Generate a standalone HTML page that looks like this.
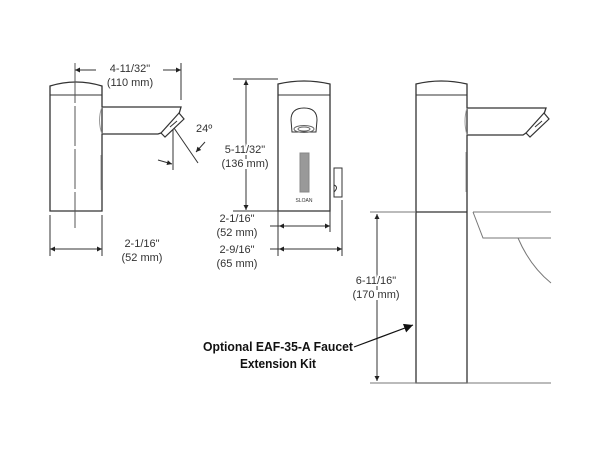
<!DOCTYPE html>
<html><head><style>
html,body{margin:0;padding:0;background:#fff;}
svg{display:block;}
text{font-family:"Liberation Sans",sans-serif;font-size:11px;fill:#333;}
.b{font-family:"Liberation Sans Narrow","Liberation Sans",sans-serif;font-weight:bold;font-size:13px;fill:#111;}
</style></head><body>
<svg width="600" height="449" viewBox="0 0 600 449" xmlns="http://www.w3.org/2000/svg">
<defs>
<marker id="a" viewBox="0 0 10 10" refX="10" refY="5" markerWidth="7" markerHeight="5" orient="auto-start-reverse" markerUnits="userSpaceOnUse"><path d="M0,0L10,5L0,10z" fill="#222"/></marker>
<marker id="ab" viewBox="0 0 10 10" refX="10" refY="5" markerWidth="12" markerHeight="9" orient="auto" markerUnits="userSpaceOnUse"><path d="M0,0L10,5L0,10z" fill="#111"/></marker>
</defs>
<g fill="none" stroke="#333" stroke-width="1">
<path d="M50,211V86Q76,78 102,86V211Z" fill="#fff" stroke-width="1.3"/>
<line x1="50" y1="95" x2="102" y2="95"/>
<line x1="75" y1="63" x2="75" y2="228" stroke-dasharray="40,3" stroke="#555"/>
<line x1="101" y1="155" x2="101" y2="190" stroke="#999"/>
<path d="M102,107H181L179,114M161,133L158,134H102" stroke-width="1.3"/>
<path d="M102,107Q97,120 102,134" stroke="#999"/>
<path d="M161,133L165,137L184,119L179,113Z" fill="#fff" stroke-width="1.2"/>
<line x1="170" y1="127" x2="177" y2="121"/>
<line x1="181" y1="63" x2="181" y2="100"/>
<line x1="173" y1="130" x2="173" y2="170"/>
<line x1="174" y1="128" x2="198" y2="163"/>
<line x1="96" y1="70" x2="75" y2="70" marker-end="url(#a)"/>
<line x1="163" y1="70" x2="181" y2="70" marker-end="url(#a)"/>
<line x1="158" y1="160" x2="172" y2="164" marker-end="url(#a)"/>
<line x1="205" y1="142" x2="196" y2="152" marker-end="url(#a)"/>
<line x1="50" y1="215" x2="50" y2="256"/>
<line x1="102" y1="215" x2="102" y2="256"/>
<line x1="50" y1="249" x2="102" y2="249" marker-start="url(#a)" marker-end="url(#a)"/>

<path d="M278,211V84Q304,78 330,84V211Z" fill="#fff" stroke-width="1.3"/>
<line x1="278" y1="95" x2="330" y2="95"/>
<path d="M291,120Q291,108 304,108Q317,108 317,120L316,132H292Z" fill="#fff"/>
<ellipse cx="304" cy="129" rx="10" ry="3.5" stroke="#666"/>
<ellipse cx="304" cy="129" rx="6" ry="2" stroke="#666"/>
<rect x="300" y="153" width="9" height="39" fill="#999" stroke="#888"/>
<rect x="334" y="168" width="8" height="29" fill="#fff"/>
<path d="M334,185Q339,187 334,192" />
<line x1="233" y1="79" x2="278" y2="79"/>
<line x1="233" y1="211" x2="278" y2="211"/>
<line x1="246" y1="80" x2="246" y2="210" marker-start="url(#a)" marker-end="url(#a)"/>
<line x1="278" y1="211" x2="278" y2="256"/>
<line x1="330" y1="211" x2="330" y2="232"/>
<line x1="342" y1="200" x2="342" y2="256"/>
<line x1="270" y1="226" x2="279" y2="226"/>
<line x1="279" y1="226" x2="330" y2="226" marker-start="url(#a)" marker-end="url(#a)"/>
<line x1="270" y1="249" x2="279" y2="249"/>
<line x1="279" y1="249" x2="342" y2="249" marker-start="url(#a)" marker-end="url(#a)"/>

<path d="M416,383V84Q441,78 467,84V383Z" fill="#fff" stroke-width="1.3"/>
<line x1="416" y1="95" x2="467" y2="95"/>
<line x1="416" y1="212" x2="467" y2="212" stroke-width="1.3"/>
<line x1="466" y1="152" x2="466" y2="192" stroke="#999"/>
<path d="M467,108H546L544,114M526,133L523,135H467" stroke-width="1.3"/>
<path d="M467,108Q463,121 467,135" stroke="#999"/>
<path d="M526,133L530,137L549,119L544,113Z" fill="#fff" stroke-width="1.2"/>
<line x1="535" y1="127" x2="542" y2="121"/>
<line x1="370" y1="383" x2="551" y2="383" stroke="#777"/>
<line x1="370" y1="212" x2="416" y2="212" stroke="#777"/>
<line x1="473" y1="212" x2="551" y2="212" stroke="#777"/>
<path d="M473,212L483,238H551" stroke="#777"/>
<path d="M518,238Q530,266 551,283" stroke="#777"/>
<line x1="377" y1="214" x2="377" y2="381" marker-start="url(#a)" marker-end="url(#a)"/>
<line x1="354" y1="347" x2="413" y2="325" stroke="#111" stroke-width="1.2" marker-end="url(#ab)"/>
</g>
<text x="130" y="72" text-anchor="middle">4-11/32"</text>
<text x="130" y="86" text-anchor="middle">(110 mm)</text>
<text x="196" y="132">24º</text>
<text x="142" y="247" text-anchor="middle">2-1/16"</text>
<text x="142" y="261" text-anchor="middle">(52 mm)</text>
<text x="245" y="153" text-anchor="middle" fill="#fff" stroke="#fff" stroke-width="4">5-11/32"</text>
<text x="245" y="153" text-anchor="middle">5-11/32"</text>
<text x="245" y="167" text-anchor="middle" fill="#fff" stroke="#fff" stroke-width="4">(136 mm)</text>
<text x="245" y="167" text-anchor="middle">(136 mm)</text>
<text x="237" y="222" text-anchor="middle">2-1/16"</text>
<text x="237" y="236" text-anchor="middle">(52 mm)</text>
<text x="237" y="253" text-anchor="middle">2-9/16"</text>
<text x="237" y="267" text-anchor="middle">(65 mm)</text>
<text x="304" y="202" text-anchor="middle" style="font-size:5px">SLOAN</text>
<text x="376" y="284" text-anchor="middle" fill="#fff" stroke="#fff" stroke-width="4">6-11/16"</text>
<text x="376" y="284" text-anchor="middle">6-11/16"</text>
<text x="376" y="298" text-anchor="middle" fill="#fff" stroke="#fff" stroke-width="4">(170 mm)</text>
<text x="376" y="298" text-anchor="middle">(170 mm)</text>
<text class="b" x="203" y="351" textLength="150" lengthAdjust="spacingAndGlyphs">Optional EAF-35-A Faucet</text>
<text class="b" x="240" y="368" textLength="76" lengthAdjust="spacingAndGlyphs">Extension Kit</text>
</svg>
</body></html>
